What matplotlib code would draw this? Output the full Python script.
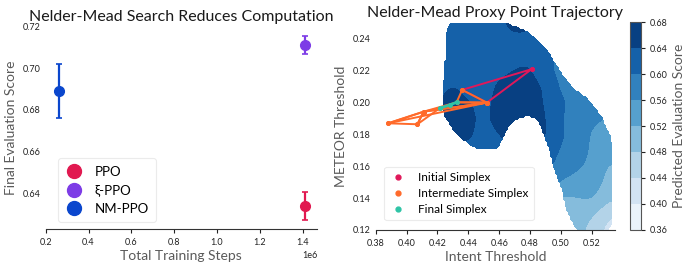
import numpy as np
import matplotlib
matplotlib.use("Agg")
import matplotlib.pyplot as plt
from matplotlib.path import Path
from matplotlib.lines import Line2D

plt.rcParams['font.family'] = ['Lato', 'DejaVu Sans']

# ---------------- left panel data ----------------
methods = ["PPO", "ξ-PPO", "NM-PPO"]
steps = [1.41e6, 1.41e6, 0.26e6]
scores = [0.634, 0.711, 0.689]
score_err = [0.0066, 0.0045, 0.013]
method_colors = ["#E11950", "#7D3CE6", "#0A46CD"]
step_ticks = [0.2e6, 0.4e6, 0.6e6, 0.8e6, 1.0e6, 1.2e6, 1.4e6]

# ---------------- right panel data ----------------
grid_x = [0.42, 0.43, 0.44, 0.45, 0.46, 0.47, 0.48, 0.49, 0.50, 0.51, 0.52, 0.53, 0.54]
grid_y = [0.12, 0.13, 0.14, 0.15, 0.16, 0.17, 0.18, 0.19, 0.20, 0.21, 0.22, 0.23, 0.24, 0.25]
score_grid = [
    [0.60, 0.60, 0.60, 0.60, 0.60, 0.58, 0.55, 0.51, 0.495, 0.49, 0.47, 0.425, 0.41],
    [0.60, 0.60, 0.60, 0.60, 0.60, 0.59, 0.56, 0.52, 0.50, 0.495, 0.485, 0.45, 0.43],
    [0.60, 0.60, 0.60, 0.60, 0.61, 0.61, 0.59, 0.56, 0.51, 0.518, 0.526, 0.49, 0.48],
    [0.61, 0.61, 0.61, 0.61, 0.62, 0.62, 0.61, 0.59, 0.555, 0.545, 0.54, 0.51, 0.50],
    [0.61, 0.62, 0.62, 0.62, 0.625, 0.63, 0.63, 0.61, 0.585, 0.566, 0.552, 0.515, 0.51],
    [0.62, 0.63, 0.635, 0.625, 0.63, 0.64, 0.645, 0.625, 0.595, 0.575, 0.555, 0.545, 0.54],
    [0.63, 0.645, 0.645, 0.63, 0.64, 0.65, 0.655, 0.645, 0.605, 0.58, 0.555, 0.55, 0.545],
    [0.64, 0.652, 0.645, 0.635, 0.648, 0.66, 0.66, 0.642, 0.602, 0.58, 0.565, 0.558, 0.55],
    [0.64, 0.65, 0.642, 0.632, 0.648, 0.66, 0.655, 0.637, 0.605, 0.588, 0.575, 0.57, 0.56],
    [0.63, 0.643, 0.63, 0.628, 0.645, 0.655, 0.655, 0.635, 0.592, 0.58, 0.572, 0.565, 0.56],
    [0.62, 0.625, 0.628, 0.628, 0.632, 0.64, 0.645, 0.61, 0.587, 0.575, 0.565, 0.56, 0.55],
    [0.62, 0.625, 0.628, 0.63, 0.63, 0.632, 0.632, 0.615, 0.59, 0.575, 0.565, 0.555, 0.55],
    [0.62, 0.625, 0.628, 0.63, 0.632, 0.635, 0.635, 0.62, 0.595, 0.578, 0.568, 0.558, 0.55],
    [0.62, 0.625, 0.628, 0.63, 0.635, 0.648, 0.645, 0.625, 0.60, 0.58, 0.57, 0.56, 0.55],
]
# outline of the explored region
region_x = [0.428, 0.4655, 0.4701, 0.4766, 0.483, 0.4882, 0.4921, 0.4972, 0.5024, 0.5075,
            0.5166, 0.5225, 0.5269, 0.5328, 0.5334, 0.5334, 0.531,
            0.5108, 0.5088, 0.5056, 0.5024, 0.5004, 0.4972, 0.4946, 0.4927, 0.4901, 0.4869,
            0.4843, 0.4798, 0.4733, 0.4688, 0.4649, 0.4623, 0.4585, 0.4474, 0.443, 0.4366,
            0.430, 0.4248, 0.4229, 0.4229, 0.4242, 0.4248, 0.4254, 0.4267]
region_y = [0.2502, 0.2502, 0.2482, 0.2457, 0.2413, 0.2362, 0.2318, 0.2237, 0.2161, 0.2099,
            0.2029, 0.1967, 0.1904, 0.1778, 0.164, 0.125, 0.1195,
            0.1195, 0.1219, 0.1275, 0.1357, 0.1451, 0.1533, 0.1608, 0.169, 0.1766, 0.1841,
            0.1891, 0.191, 0.1904, 0.1879, 0.1828, 0.1766, 0.1703, 0.1703, 0.1721, 0.1765,
            0.1828, 0.191, 0.1985, 0.208, 0.2174, 0.2268, 0.2425, 0.2475]
levels = [0.36, 0.40, 0.44, 0.48, 0.52, 0.56, 0.60, 0.64, 0.68]

initial_x = [0.481, 0.436, 0.452, 0.481]
initial_y = [0.221, 0.208, 0.200, 0.221]
inter_tris_x = [[0.436, 0.452, 0.4324, 0.436],
                [0.452, 0.4324, 0.411, 0.452],
                [0.452, 0.411, 0.388, 0.452],
                [0.411, 0.388, 0.407, 0.411],
                [0.411, 0.407, 0.4215, 0.411]]
inter_tris_y = [[0.208, 0.200, 0.2002, 0.208],
                [0.200, 0.2002, 0.1943, 0.200],
                [0.200, 0.1943, 0.187, 0.200],
                [0.1943, 0.187, 0.1864, 0.1943],
                [0.1943, 0.1864, 0.1965, 0.1943]]
final_x = [0.4215, 0.428, 0.4324]
final_y = [0.1965, 0.1985, 0.2002]

c_init = "#E0185A"
c_inter = "#FF6A2A"
c_final = "#2EC4A6"

# ---------------- figure ----------------
fig = plt.figure(figsize=(6.85, 2.68), dpi=100)
ax1 = fig.add_axes([0.0667, 0.1466, 0.3961, 0.7553])
ax2 = fig.add_axes([0.5485, 0.1418, 0.3493, 0.7724])
cax = fig.add_axes([0.9197, 0.1418, 0.0161, 0.7761])

label_color = "#5a5a5a"

for m, xv, yv, ev, col in zip(methods, steps, scores, score_err, method_colors):
    ax1.errorbar([xv], [yv], yerr=[ev], fmt='o', color=col, ms=7, capsize=2.5,
                 elinewidth=1.6, capthick=1.2)
ax1.set_title("Nelder-Mead Search Reduces Computation", fontsize=11.5, color="#1a1a1a", pad=4)
ax1.set_xlabel("Total Training Steps", fontsize=10, color=label_color, labelpad=2)
ax1.set_ylabel("Final Evaluation Score", fontsize=10, color=label_color, labelpad=4)
ax1.set_xticks(step_ticks)
ax1.set_yticks([0.64, 0.66, 0.68, 0.70, 0.72])
ax1.set_yticklabels(["0.64", "0.66", "0.68", "0.70", "0.72"])
ax1.tick_params(axis='both', labelsize=6.5, colors="#222222")
ax1.tick_params(axis='y', length=0)
ax1.tick_params(axis='x', length=3, width=0.8)
for s in ['top', 'right', 'left']:
    ax1.spines[s].set_visible(False)
ax1.spines['bottom'].set_color("#333333")
ax1.xaxis.get_offset_text().set_fontsize(6.5)
h1 = [Line2D([], [], ls='none', marker='o', ms=10, color=c) for c in method_colors]
leg1 = ax1.legend(h1, methods, loc='lower left', fontsize=9.5, frameon=True,
                  labelspacing=0.5, handlelength=1.3, handletextpad=0.9, borderpad=0.55,
                  bbox_to_anchor=(0.022, 0.0))
leg1.get_frame().set_edgecolor("#e6e6e6")
leg1.get_frame().set_linewidth(0.8)

# field
gx = np.array(grid_x)
gy = np.array(grid_y)
gz = np.array(score_grid)
fx = np.linspace(0.38, 0.535, 150)
fy = np.linspace(0.12, 0.25, 128)
tmp = np.array([np.interp(fx, gx, row) for row in gz])
fine = np.array([np.interp(fy, gy, tmp[:, j]) for j in range(len(fx))]).T

def smooth(a, s):
    r = int(3 * s)
    k = np.exp(-0.5 * (np.arange(-r, r + 1) / s) ** 2)
    k /= k.sum()
    p = np.pad(a, r, mode='edge')
    p = np.apply_along_axis(lambda v: np.convolve(v, k, mode='same'), 0, p)
    p = np.apply_along_axis(lambda v: np.convolve(v, k, mode='same'), 1, p)
    return p[r:-r, r:-r]

fine = smooth(fine, 3.0)
FX, FY = np.meshgrid(fx, fy)
poly = Path(np.column_stack([region_x, region_y]))
inside = poly.contains_points(np.column_stack([FX.ravel(), FY.ravel()])).reshape(FX.shape)
Z = np.ma.masked_where(~inside, fine)

cf = ax2.contourf(FX, FY, Z, levels=levels, cmap='Blues', vmin=0.36, vmax=0.68)

ax2.plot(initial_x, initial_y, '-', color=c_init, lw=1.4, marker='o', ms=2.5, zorder=3)
for tx, ty in zip(inter_tris_x, inter_tris_y):
    ax2.plot(tx, ty, '-', color=c_inter, lw=1.4, marker='o', ms=2.5, zorder=4)
ax2.plot(final_x, final_y, '-', color=c_final, lw=2.0, marker='o', ms=2.5, zorder=5)

ax2.set_xlim(0.38, 0.535)
ax2.set_ylim(0.12, 0.25)
ax2.set_xticks([0.38, 0.40, 0.42, 0.44, 0.46, 0.48, 0.50, 0.52])
ax2.set_xticklabels(["0.38", "0.40", "0.42", "0.44", "0.46", "0.48", "0.50", "0.52"])
ax2.set_yticks([0.12, 0.14, 0.16, 0.18, 0.20, 0.22, 0.24])
ax2.set_yticklabels(["0.12", "0.14", "0.16", "0.18", "0.20", "0.22", "0.24"])
ax2.tick_params(axis='both', labelsize=6.5, colors="#222222")
ax2.tick_params(axis='y', length=0)
ax2.tick_params(axis='x', length=3, width=0.8)
for s in ['top', 'right', 'left']:
    ax2.spines[s].set_visible(False)
ax2.spines['bottom'].set_color("#333333")
ax2.set_title("Nelder-Mead Proxy Point Trajectory", fontsize=11.5, color="#1a1a1a", pad=4)
ax2.set_xlabel("Intent Threshold", fontsize=10, color=label_color, labelpad=2)
ax2.set_ylabel("METEOR Threshold", fontsize=10, color=label_color, labelpad=4)

handles = [Line2D([], [], ls='none', marker='o', ms=3.5, color=c_init),
           Line2D([], [], ls='none', marker='o', ms=3.5, color=c_inter),
           Line2D([], [], ls='none', marker='o', ms=3.5, color=c_final)]
leg2 = ax2.legend(handles, ["Initial Simplex", "Intermediate Simplex", "Final Simplex"],
                  loc='lower left', fontsize=8.5, frameon=True, labelspacing=0.4,
                  handlelength=1.4, handletextpad=1.0, borderpad=0.45,
                  bbox_to_anchor=(0.012, 0.02))
leg2.get_frame().set_edgecolor("#e6e6e6")
leg2.get_frame().set_linewidth(0.8)

cb = fig.colorbar(cf, cax=cax, ticks=levels)
cb.ax.set_yticklabels(["0.36", "0.40", "0.44", "0.48", "0.52", "0.56", "0.60", "0.64", "0.68"])
cb.ax.tick_params(labelsize=6.5, colors="#222222", length=3, width=0.8)
cb.outline.set_edgecolor("#555555")
cb.outline.set_linewidth(0.8)
cb.set_label("Predicted Evaluation Score", fontsize=10, color=label_color, labelpad=4)

fig.savefig("out.png", dpi=100)
